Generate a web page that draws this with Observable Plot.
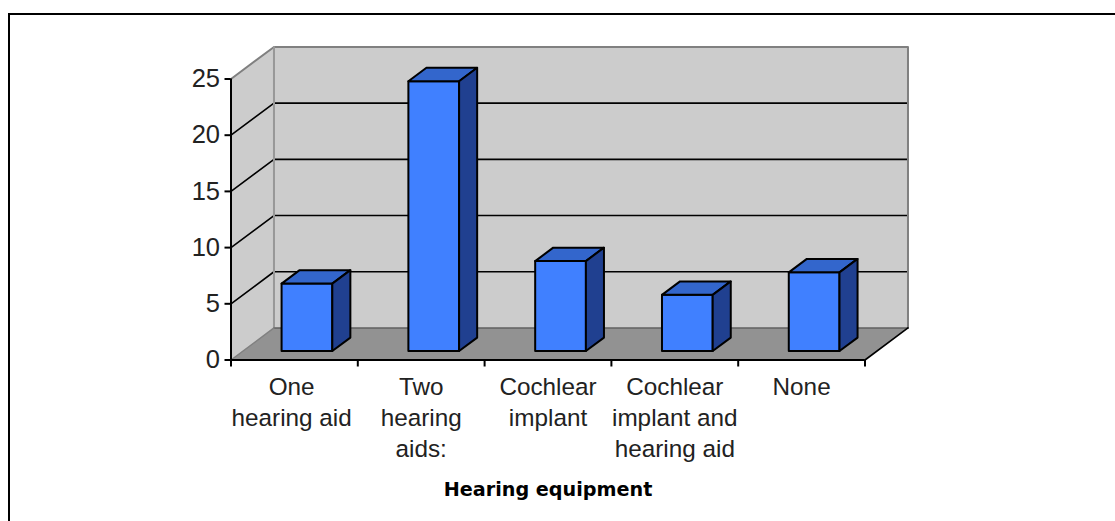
<!DOCTYPE html>
<html>
<head>
<meta charset="utf-8">
<script src="https://cdn.jsdelivr.net/npm/d3@7"></script>
<script src="https://cdn.jsdelivr.net/npm/@observablehq/plot@0.6"></script>
<style>
  html, body { margin: 0; padding: 0; background: #fff; overflow: hidden; }
  #wrap { position: relative; width: 1115px; height: 521px; overflow: hidden; }
  #frame { position: absolute; left: 8px; top: 13px; width: 1200px; height: 600px; border: 2px solid #000; box-sizing: border-box; }
  #chart { position: absolute; left: 0; top: 0; }
  #chart svg { background: transparent !important; display: block; }
</style>
</head>
<body>
<div id="wrap"><div id="frame"></div><div id="chart"></div></div>
<script>
const categories = ["One\nhearing aid", "Two\nhearing\naids:", "Cochlear\nimplant", "Cochlear\nimplant and\nhearing aid", "None"];
const values = [6, 24, 8, 5, 7];
const yTicks = [0, 5, 10, 15, 20, 25];
const xTicks = [0, 1, 2, 3, 4, 5];
const xTitle = "Hearing equipment";

// oblique projection: depth d (0 = front, 1 = back wall) shifts x and y in data units
const depthX = 0.339, depthY = 2.85;
const p = (i, v, d = 0) => ({x: i + d * depthX, y: v + d * depthY});
const poly = (pts, o) => Plot.line(pts, {x: "x", y: "y", curve: "linear-closed", strokeLinejoin: "round", ...o});
const seg = (pts, stroke, strokeWidth = 1.6) => Plot.line(pts, {x: "x", y: "y", stroke, strokeWidth});

const maxX = categories.length, maxY = yTicks[yTicks.length - 1];
const barFront = 0.28, barBack = 0.70, barGap = 0.304, barW = 0.4;

const bars = values.flatMap((v, k) => {
  const a = k + barGap, b = a + barW;
  return [
    poly([p(a, 0, barFront), p(b, 0, barFront), p(b, v, barFront), p(a, v, barFront)], {fill: "#4080ff", stroke: "#000", strokeWidth: 2}),
    poly([p(a, v, barFront), p(b, v, barFront), p(b, v, barBack), p(a, v, barBack)], {fill: "#3366cc", stroke: "#000", strokeWidth: 2}),
    poly([p(b, 0, barFront), p(b, 0, barBack), p(b, v, barBack), p(b, v, barFront)], {fill: "#204090", stroke: "#000", strokeWidth: 2})
  ];
});

const chart = Plot.plot({
  width: 1115, height: 521,
  marginLeft: 230.5, marginRight: 250.5, marginTop: 78.5, marginBottom: 161.5,
  style: {background: "transparent", fontFamily: "'Liberation Sans', Arial, sans-serif", overflow: "visible"},
  x: {type: "linear", domain: [0, maxX], axis: null},
  y: {type: "linear", domain: [0, maxY], axis: null},
  marks: [
    // left wall, back wall, floor
    poly([p(0, 0, 0), p(0, 0, 1), p(0, maxY, 1), p(0, maxY, 0)], {fill: "#cccccc"}),
    poly([p(0, 0, 1), p(maxX, 0, 1), p(maxX, maxY, 1), p(0, maxY, 1)], {fill: "#cccccc"}),
    poly([p(0, 0, 0), p(maxX, 0, 0), p(maxX, 0, 1), p(0, 0, 1)], {fill: "#929292"}),
    // gridlines on left wall and back wall
    ...yTicks.slice(1, -1).map(t => seg([p(0, t, 0), p(0, t, 1), p(maxX, t, 1)], "#000")),
    // wall borders
    seg([p(0, maxY, 0), p(0, maxY, 1), p(maxX, maxY, 1), p(maxX, 0, 1)], "#808080", 2),
    seg([p(0, 0, 1), p(0, maxY, 1)], "#989898", 2),
    seg([p(0, 0, 1), p(maxX, 0, 1)], "#606060", 1.5),
    seg([p(0, 0, 0), p(0, 0, 1)], "#808080", 1.5),
    seg([p(maxX, 0, 0), p(maxX, 0, 1)], "#000"),
    ...bars,
    // axes
    Plot.ruleX([0], {y1: 0, y2: maxY, stroke: "#000", strokeWidth: 2}),
    Plot.ruleY([0], {x1: 0, x2: maxX, stroke: "#000", strokeWidth: 2}),
    Plot.axisY({ticks: yTicks, tickSize: 6, tickPadding: 5, fontSize: 25.5, label: null, stroke: "#000", strokeWidth: 2, strokeOpacity: 1, fill: "#222"}),
    Plot.axisX({ticks: xTicks, tickSize: 7, tickFormat: () => "", label: null, stroke: "#000", strokeWidth: 2, strokeOpacity: 1}),
    Plot.text(categories, {x: (d, i) => i === 0 ? 0.478 : i + 0.5, y: 0, text: d => d, dy: 13, lineAnchor: "top", lineHeight: 1.275, fontSize: 24.3, fill: "#222"}),
    Plot.text([xTitle], {x: maxX / 2, y: 0, text: d => d, dy: 130, fontFamily: "'DejaVu Sans', sans-serif", fontSize: 19.2, fontWeight: "bold", fill: "#000"})
  ]
});
document.getElementById("chart").appendChild(chart);
</script>
</body>
</html>
